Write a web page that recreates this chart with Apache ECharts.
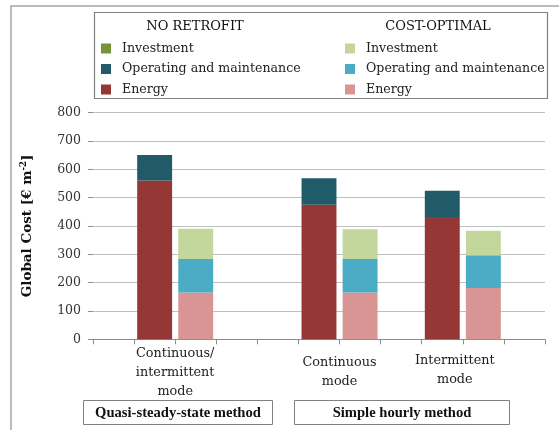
<!DOCTYPE html>
<html>
<head>
<meta charset="utf-8">
<script src="https://cdn.jsdelivr.net/npm/echarts@6/dist/echarts.min.js"></script>
<style>
  html, body { margin: 0; padding: 0; background: #fff; }
  #main { width: 559px; height: 430px; }
</style>
</head>
<body>
<div id="main"></div>
<script>
// values, one entry per case
var cases = ['Continuous/\nintermittent\nmode', 'Continuous\nmode', 'Intermittent\nmode'];
var methods = ['Quasi-steady-state method', 'Simple hourly method'];
var yTicks = [0, 100, 200, 300, 400, 500, 600, 700, 800];

var noRetrofitEnergy = [560, 475, 432];
var noRetrofitOM = [90, 93, 92];
var noRetrofitInvest = [0, 0, 0];

var costOptEnergy = [165, 165, 181];
var costOptOM = [118, 118, 116];
var costOptInvest = [107, 105, 86];

var FONT = 'DejaVu Serif';

// slots on the category axis (empty slots give the gaps between groups)
var nSlots = 11;
var nrSlot = [1, 5, 8];
var coSlot = [2, 6, 9];

function toSlots(vals, slots) {
    var arr = [];
    for (var i = 0; i < nSlots; i++) arr.push('-');
    for (var j = 0; j < vals.length; j++) arr[slots[j]] = vals[j];
    return arr;
}

var slotNames = [];
for (var i = 0; i < nSlots; i++) slotNames.push('s' + i);

// second axis used only to place the case labels between the bar pairs
var labelPos = [2, 6, 9];
var labelAxis = [];
for (var i = 0; i <= nSlots; i++) labelAxis.push('');
for (var j = 0; j < cases.length; j++) labelAxis[labelPos[j]] = cases[j];

function bar(name, color, vals, slots) {
    return {
        name: name,
        type: 'bar',
        stack: 'total',
        barCategoryGap: '15%',
        itemStyle: { color: color },
        data: toSlots(vals, slots)
    };
}

var chart = echarts.init(document.getElementById('main'));

var legendText = { fontFamily: FONT, fontSize: 12.6, color: '#222', padding: [0, 0, 0, 6], lineHeight: 14 };

var option = {
    animation: false,
    grid: { left: 93, right: 14, top: 112.6, bottom: 90.7 },
    legend: [{
        orient: 'vertical',
        left: 96, top: 36.5,
        itemWidth: 10, itemHeight: 10, itemGap: 6.5,
        icon: 'rect',
        selectedMode: false,
        data: ['NR Investment', 'NR Operating and maintenance', 'NR Energy'],
        formatter: function (n) { return n.substring(3); },
        textStyle: legendText
    }, {
        orient: 'vertical',
        left: 340, top: 36.5,
        itemWidth: 10, itemHeight: 10, itemGap: 6.5,
        icon: 'rect',
        selectedMode: false,
        data: ['CO Investment', 'CO Operating and maintenance', 'CO Energy'],
        formatter: function (n) { return n.substring(3); },
        textStyle: legendText
    }],
    xAxis: [{
        type: 'category',
        data: slotNames,
        axisLine: { lineStyle: { color: '#8c8c8c' } },
        axisTick: { show: true, length: 5, lineStyle: { color: '#8c8c8c' } },
        axisLabel: { show: false },
        splitLine: { show: false }
    }, {
        type: 'category',
        position: 'bottom',
        boundaryGap: false,
        data: labelAxis,
        axisLine: { show: false },
        axisTick: { show: false },
        axisLabel: {
            interval: 0,
            margin: 33,
            verticalAlign: 'middle',
            fontFamily: FONT, fontSize: 12.8, lineHeight: 19, color: '#222',
            formatter: function (v) {
                if (v.indexOf('Intermittent') === 0) return '{l|' + v + '}';
                return v;
            },
            rich: { l: { fontFamily: FONT, fontSize: 12.8, lineHeight: 19, color: '#222', padding: [0, 16, 4, 0] } }
        }
    }],
    yAxis: {
        type: 'value',
        min: 0, max: 800, interval: 100,
        axisLine: { show: false },
        axisTick: { show: true, length: 5, lineStyle: { color: '#8c8c8c' } },
        axisLabel: {
            margin: 12,
            fontFamily: FONT, fontSize: 12.5, color: '#333',
            formatter: function (v) { return yTicks.indexOf(v) >= 0 ? String(v) : ''; }
        },
        splitLine: { lineStyle: { color: '#bfbfbf' } },
        name: '{a|Global Cost [€ m}{s|-2}{a|]}',
        nameLocation: 'middle',
        nameRotate: 90,
        nameGap: 58,
        nameTextStyle: {
            rich: {
                a: { fontFamily: FONT, fontWeight: 'bold', fontSize: 13.5, color: '#111' },
                s: { fontFamily: FONT, fontWeight: 'bold', fontSize: 8.5, color: '#111', padding: [0, 0, 7, 0] }
            }
        }
    },
    series: [
        bar('NR Energy', '#953735', noRetrofitEnergy, nrSlot),
        bar('NR Operating and maintenance', '#215a68', noRetrofitOM, nrSlot),
        bar('NR Investment', '#77933c', noRetrofitInvest, nrSlot),
        bar('CO Energy', '#d99594', costOptEnergy, coSlot),
        bar('CO Operating and maintenance', '#4bacc6', costOptOM, coSlot),
        bar('CO Investment', '#c3d69b', costOptInvest, coSlot)
    ],
    graphic: [
        // outer frame
        { type: 'rect', shape: { x: 11, y: 6, width: 560, height: 440 }, style: { fill: null, stroke: '#a6a6a6', lineWidth: 1.5 }, silent: true },
        // legend box and headers
        { type: 'rect', shape: { x: 94.5, y: 12.5, width: 453, height: 86 }, style: { fill: null, stroke: '#808080', lineWidth: 1.2 }, silent: true },
        { type: 'text', x: 195, y: 27, style: { text: 'NO RETROFIT', fontFamily: FONT, fontSize: 13, fill: '#111', align: 'center', verticalAlign: 'middle' } },
        { type: 'text', x: 438, y: 27, style: { text: 'COST-OPTIMAL', fontFamily: FONT, fontSize: 13, fill: '#111', align: 'center', verticalAlign: 'middle' } },
        // method boxes under the axis
        { type: 'rect', shape: { x: 83.5, y: 400.5, width: 189, height: 24 }, style: { fill: '#fff', stroke: '#808080', lineWidth: 1 }, silent: true },
        { type: 'text', x: 178, y: 413, style: { text: methods[0], fontFamily: 'Liberation Serif', fontWeight: 'bold', fontSize: 14.6, fill: '#111', align: 'center', verticalAlign: 'middle' } },
        { type: 'rect', shape: { x: 294.5, y: 400.5, width: 215, height: 24 }, style: { fill: '#fff', stroke: '#808080', lineWidth: 1 }, silent: true },
        { type: 'text', x: 402, y: 413, style: { text: methods[1], fontFamily: 'Liberation Serif', fontWeight: 'bold', fontSize: 14.6, fill: '#111', align: 'center', verticalAlign: 'middle' } }
    ]
};

chart.setOption(option);
</script>
</body>
</html>
